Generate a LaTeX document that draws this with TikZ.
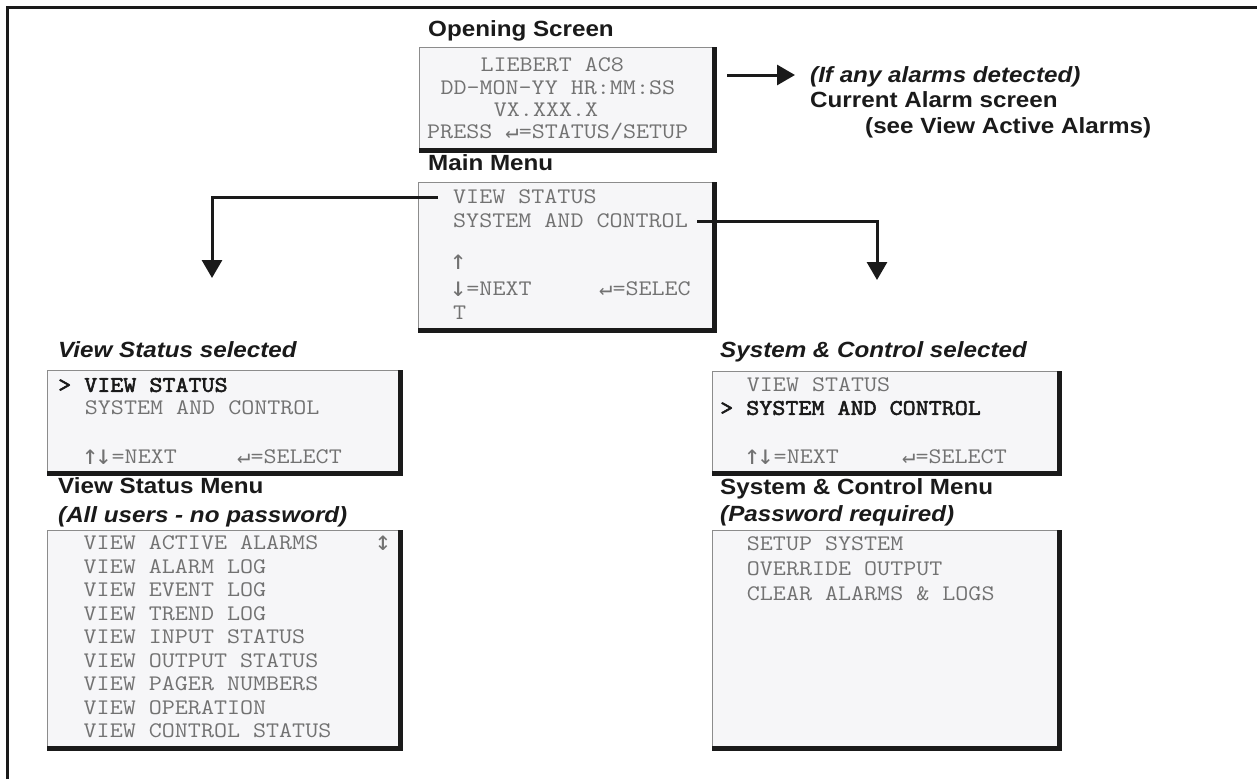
\documentclass[tikz,border=0pt]{standalone}
\usepackage{fontspec}
\setmainfont{Liberation Sans}
\newfontfamily\hdrfont[FakeStretch=1.1]{Liberation Sans}
\newfontfamily\lcdfont[FakeStretch=1.14]{Latin Modern Mono}
\newfontfamily\lcdbold[FakeStretch=1.14,FakeBold=2.5]{Latin Modern Mono}
\newfontfamily\symfont{DejaVu Sans Mono}
\newcommand{\bigarr}[1]{{\symfont\fontsize{27}{27}\selectfont\raisebox{-1pt}{#1}}}
\usetikzlibrary{arrows.meta}
\definecolor{lcdfill}{HTML}{F6F6F8}
\definecolor{lcdtext}{HTML}{727272}
\definecolor{lcdedge}{HTML}{8C8C8C}
\definecolor{ink}{HTML}{1A1A1A}
\begin{document}
\begin{tikzpicture}[x=1pt,y=-1pt,
  screen/.style={draw=lcdedge, line width=1.2pt, fill=lcdfill, anchor=north west, inner sep=0pt},
  shadowline/.style={draw=ink, line width=5pt, line join=miter},
  lcd/.style={font=\lcdfont\fontsize{22.2}{24}\selectfont, text=lcdtext, anchor=west, inner sep=0pt, text height=13.6pt, text depth=0pt},
  lcdsel/.style={lcd, font=\lcdbold\fontsize{22.2}{24}\selectfont, text=ink},
  hdr/.style={font=\hdrfont\bfseries\fontsize{22}{26}\selectfont, text=ink, anchor=west, inner sep=0pt, text height=15.7pt, text depth=0pt},
  hdri/.style={hdr, font=\hdrfont\bfseries\itshape\fontsize{22}{26}\selectfont},
  link/.style={draw=ink, line width=3pt, -{Triangle[length=18pt,width=20pt]}}
]
\useasboundingbox (0,0) rectangle (1257,779);
% outer frame
\draw[ink, line width=3pt] (7.5,779) -- (7.5,7.5) -- (1257,7.5);

% ---------- screens ----------
\node[screen, minimum width=293pt, minimum height=101pt] (opbox) at (419,47) {};
\node[screen, minimum width=294pt, minimum height=146pt] (mainbox) at (418,182) {};
\node[screen, minimum width=351pt, minimum height=101pt] (vsselbox) at (47,370) {};
\node[screen, minimum width=351pt, minimum height=216pt] (vsmenubox) at (47,530) {};
\node[screen, minimum width=345pt, minimum height=100pt] (scselbox) at (712,371) {};
\node[screen, minimum width=345pt, minimum height=216pt] (scmenubox) at (712,530) {};
\foreach \b in {opbox,mainbox,vsselbox,vsmenubox,scselbox,scmenubox}{
  \draw[shadowline] ([xshift=1pt]\b.north east) -- ([xshift=1pt,yshift=-1pt]\b.south east) -- ([yshift=-1pt]\b.south west);
}

% ---------- opening screen ----------
\node[hdr] (ophdr) at (428,29) {Opening Screen};
\node[lcd] (op1) at (480.4,65) {LIEBERT AC8};
\node[lcd] (op2) at (440.3,88) {DD-MON-YY HR:MM:SS};
\node[lcd] (op3) at (493.7,110) {VX.XXX.X};
\node[lcd] (op4) at (427,132) {PRESS {\symfont ↵}=STATUS/SETUP};

% alarm note
\node[hdri] (ifany) at (810,75) {(If any alarms detected)};
\node[hdr] (curalarm) at (810,100) {Current Alarm screen};
\node[hdr] (seeview) at (865,126) {(see View Active Alarms)};
\coordinate (alarmstart) at (727,75);
\draw[link] (alarmstart) -- ([xshift=-15pt]ifany.west);

% ---------- main menu ----------
\node[hdr] (mainhdr) at (428,163) {Main Menu};
\node[lcd] (mvs) at (453,197) {VIEW STATUS};
\node[lcd] (msc) at (453,221) {SYSTEM AND CONTROL};
\node[lcd] (mup) at (450,262) {\bigarr{↑}};
\node[lcd] (mdown) at (450,289) {\bigarr{↓}=NEXT};
\node[lcd] (msel) at (599,289) {{\symfont ↵}=SELEC};
\node[lcd] (mt) at (453,313) {T};

\coordinate (tipL) at (212,278);
\coordinate (tipR) at (877,280);
\draw[link] ([xshift=-15pt]mvs.west) -| (tipL);
\draw[link] ([xshift=9pt]msc.east) -| (tipR);

% ---------- view status selected ----------
\node[hdri] (vsselhdr) at (58,350) {View Status selected};
\node[lcdsel] (vs1) at (58,385) {> VIEW STATUS};
\node[lcd] (vs2) at (84.7,408) {SYSTEM AND CONTROL};
\node[lcd] (vs3) at (82,457) {\bigarr{↑}\kern-3pt\bigarr{↓}=NEXT};
\node[lcd] (vs4) at (237,457) {{\symfont ↵}=SELECT};

% ---------- view status menu ----------
\node[hdr] (vsmenuhdr) at (58,486) {View Status Menu};
\node[hdri] (vsmenusub) at (58,515) {(All users - no password)};
\node[lcd] (vm1) at (83.5,543) {VIEW ACTIVE ALARMS};
\node[lcd] (vm2) at (83.5,566.5) {VIEW ALARM LOG};
\node[lcd] (vm3) at (83.5,590) {VIEW EVENT LOG};
\node[lcd] (vm4) at (83.5,613.5) {VIEW TREND LOG};
\node[lcd] (vm5) at (83.5,637) {VIEW INPUT STATUS};
\node[lcd] (vm6) at (83.5,660.5) {VIEW OUTPUT STATUS};
\node[lcd] (vm7) at (83.5,684) {VIEW PAGER NUMBERS};
\node[lcd] (vm8) at (83.5,707.5) {VIEW OPERATION};
\node[lcd] (vm9) at (83.5,731) {VIEW CONTROL STATUS};
\node[lcd, anchor=center] (vmscroll) at (383,543) {\bigarr{↕}};

% ---------- system & control selected ----------
\node[hdri] (scselhdr) at (720,350) {System \& Control selected};
\node[lcd] (sc1) at (746.7,385) {VIEW STATUS};
\node[lcdsel] (sc2) at (720,408) {> SYSTEM AND CONTROL};
\node[lcd] (sc3) at (744,457) {\bigarr{↑}\kern-3pt\bigarr{↓}=NEXT};
\node[lcd] (sc4) at (902,457) {{\symfont ↵}=SELECT};

% ---------- system & control menu ----------
\node[hdr] (scmenuhdr) at (720,487) {System \& Control Menu};
\node[hdri] (scmenusub) at (720,514) {(Password required)};
\node[lcd] (sm1) at (746.7,544) {SETUP SYSTEM};
\node[lcd] (sm2) at (746.7,569) {OVERRIDE OUTPUT};
\node[lcd] (sm3) at (746.7,594) {CLEAR ALARMS \& LOGS};
\end{tikzpicture}
\end{document}
